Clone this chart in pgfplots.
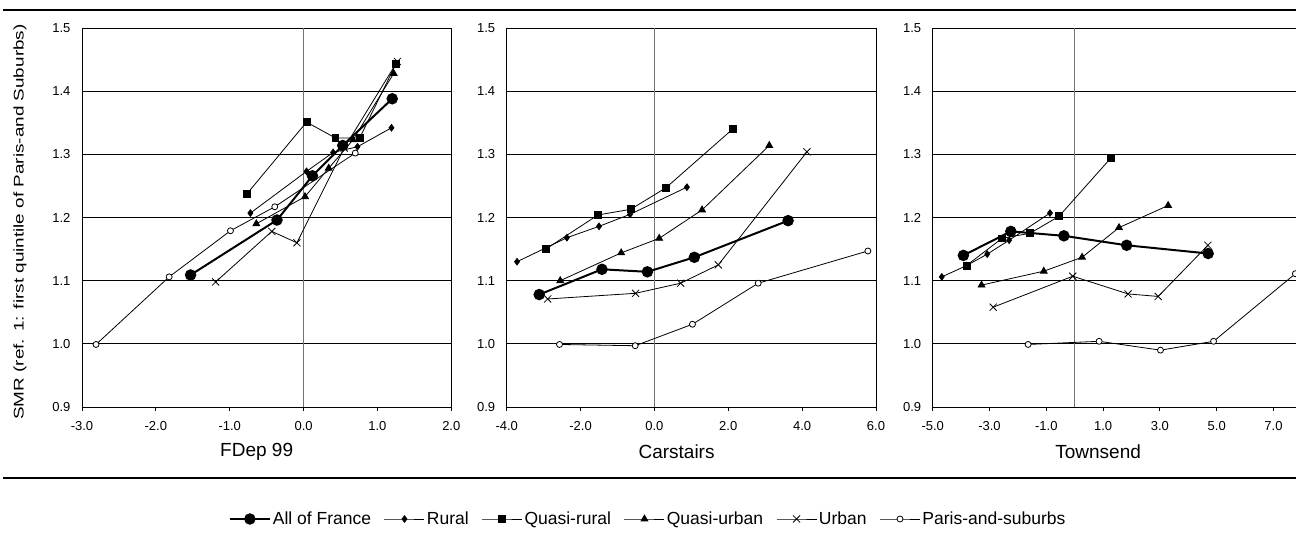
\documentclass[border=0pt]{standalone}
\usepackage{pgfplots}
\pgfplotsset{compat=1.18}
\usepackage{graphicx}
\usepackage{fontspec}
\setmainfont{Liberation Sans}
\newcommand{\tickfont}{\fontsize{13}{14}\selectfont}
\begin{document}
\begin{tikzpicture}[x=1pt,y=1pt]
\useasboundingbox (0,0) rectangle (1296,548);
\draw[line width=2pt] (3,537.5) -- (1296,537.5);
\draw[line width=2pt] (3,70) -- (1296,70);
\pgfplotsset{
 panel/.style={scale only axis, height=379pt, ymin=0.9, ymax=1.5,
  ytick={0.9,1,1.1,1.2,1.3,1.4,1.5},
  clip=false,
  axis line style={black, line width=0.9pt},
  ymajorgrids, major grid style={black, line width=0.8pt},
  tick align=outside, xtick pos=bottom, ytick pos=left,
  x tick style={black, line width=0.8pt}, major tick length=4pt,
  y tick style={draw=none},
  extra x ticks={0}, extra x tick labels={},
  extra x tick style={grid=major, major grid style={draw=black!55, line width=1pt}, x tick style={draw=none}},
  /pgf/number format/fixed, /pgf/number format/fixed zerofill, /pgf/number format/precision=1, /pgf/number format/assume math mode=true,
  tick label style={font=\tickfont},
  xticklabel style={yshift=-7pt},
  yticklabel style={xshift=-4pt},
  xlabel style={anchor=center, font=\fontsize{19}{22}\selectfont},
 },
 fr/.style={black, line width=2pt, mark=*, mark size=4.7pt},
 ru/.style={black, line width=0.8pt, mark=diamond*, mark size=3.3pt},
 qr/.style={black, line width=0.8pt, mark=square*, mark size=3.4pt},
 qu/.style={black, line width=0.8pt, mark=triangle*, mark size=3.9pt},
 ur/.style={black, line width=0.8pt, mark=x, mark size=5pt},
 pa/.style={black, line width=0.8pt, mark=*, mark size=3pt, mark options={fill=white}},
}
% Panel 1
\begin{axis}[panel, at={(82pt,141pt)}, anchor=south west, width=369.3pt,
  xmin=-3, xmax=2, xtick={-3,-2,-1,0,1,2},
  xlabel={FDep 99}, xlabel style={at={(axis description cs:0.473,0)}, yshift=-45pt},
  ylabel={\scalebox{1.35}[1]{SMR (ref. 1: first quintile of Paris-and Suburbs)}},
  ylabel style={at={(axis description cs:-0.168,0.488)}, anchor=center, font=\fontsize{14}{16}\selectfont}]
\addplot[pa] coordinates {(-2.81,0.999) (-1.82,1.106) (-0.99,1.179) (-0.39,1.217) (0.70,1.302)};
\addplot[ur] coordinates {(-1.19,1.098) (-0.43,1.178) (-0.09,1.160) (0.55,1.310) (1.27,1.447)};
\addplot[qu] coordinates {(-0.64,1.190) (0.02,1.233) (0.34,1.278) (0.67,1.323) (1.22,1.428)};
\addplot[qr] coordinates {(-0.77,1.237) (0.04,1.351) (0.43,1.326) (0.76,1.326) (1.25,1.443)};
\addplot[ru] coordinates {(-0.72,1.207) (0.04,1.273) (0.40,1.303) (0.73,1.312) (1.19,1.342)};
\addplot[fr] coordinates {(-1.53,1.109) (-0.36,1.196) (0.12,1.266) (0.53,1.314) (1.20,1.388)};
\end{axis}
% Panel 2
\begin{axis}[panel, at={(506.7pt,141pt)}, anchor=south west, width=369.3pt,
  xmin=-4, xmax=6, xtick={-4,-2,0,2,4,6},
  xlabel={Carstairs}, xlabel style={at={(axis description cs:0.46,0)}, yshift=-45pt},
  legend style={at={(0.383,-0.2955)}, anchor=center, draw=none, fill=none, legend columns=6,
    font=\fontsize{17.5}{20}\selectfont,
    /tikz/every even column/.append style={column sep=11pt},
    /tikz/every odd column/.append style={column sep=0pt}},
  legend image code/.code={\draw[mark repeat=2,mark phase=2,#1] plot coordinates {(0pt,0pt) (20pt,0pt) (40pt,0pt)};}]
\addplot[fr] coordinates {(-3.12,1.078) (-1.42,1.118) (-0.19,1.114) (1.08,1.137) (3.62,1.195)};
\addlegendentry{All of France}
\addplot[ru] coordinates {(-3.72,1.130) (-2.37,1.168) (-1.50,1.186) (-0.66,1.205) (0.88,1.248)};
\addlegendentry{Rural}
\addplot[qr] coordinates {(-2.94,1.150) (-1.53,1.204) (-0.64,1.213) (0.31,1.247) (2.12,1.340)};
\addlegendentry{Quasi-rural}
\addplot[qu] coordinates {(-2.55,1.100) (-0.90,1.144) (0.13,1.167) (1.29,1.212) (3.11,1.314)};
\addlegendentry{Quasi-urban}
\addplot[ur] coordinates {(-2.89,1.071) (-0.51,1.080) (0.71,1.096) (1.73,1.125) (4.13,1.304)};
\addlegendentry{Urban}
\addplot[pa] coordinates {(-2.57,0.999) (-0.52,0.997) (1.03,1.031) (2.81,1.096) (5.78,1.147)};
\addlegendentry{Paris-and-suburbs}
\end{axis}
% Panel 3
\begin{axis}[panel, at={(932.7pt,141pt)}, anchor=south west, width=363.5pt,
  xmin=-5, xmax=7.8, xtick={-5,-3,-1,1,3,5,7},
  xlabel={Townsend}, xlabel style={at={(axis description cs:0.455,0)}, yshift=-45pt}]
\addplot[pa] coordinates {(-1.64,0.999) (0.86,1.004) (3.02,0.990) (4.89,1.004) (7.77,1.111)};
\addplot[ur] coordinates {(-2.87,1.058) (-0.07,1.107) (1.88,1.079) (2.94,1.075) (4.69,1.156)};
\addplot[qu] coordinates {(-3.28,1.093) (-1.09,1.115) (0.26,1.137) (1.56,1.184) (3.29,1.219)};
\addplot[qr] coordinates {(-3.81,1.124) (-2.56,1.167) (-1.57,1.175) (-0.55,1.202) (1.27,1.294)};
\addplot[ru] coordinates {(-4.68,1.106) (-3.80,1.124) (-3.08,1.142) (-2.31,1.164) (-0.87,1.207)};
\addplot[fr] coordinates {(-3.92,1.140) (-2.25,1.178) (-0.38,1.171) (1.83,1.156) (4.70,1.143)};
\end{axis}
\end{tikzpicture}
\end{document}
